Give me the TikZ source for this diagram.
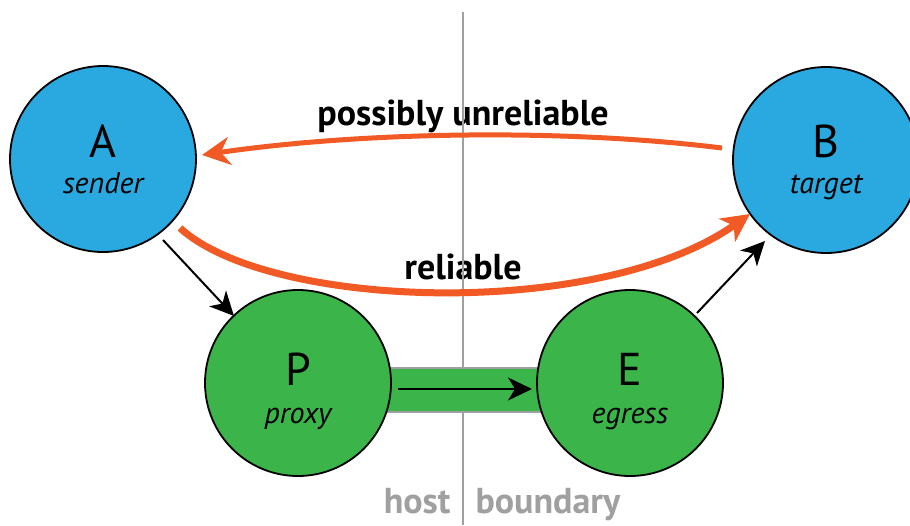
\documentclass[tikz,border=0pt]{standalone}
\usepackage{fontspec}
\setmainfont{PT Sans}
\usetikzlibrary{arrows.meta}
\definecolor{cblue}{HTML}{29A9E0}
\definecolor{cgreen}{HTML}{3BB44A}
\definecolor{corange}{HTML}{F15A24}
\definecolor{cgray}{HTML}{A0A0A0}
\begin{document}
\begin{tikzpicture}[x=1pt,y=-1pt,
  bubble/.style={circle,draw=black,line width=1.8pt,minimum size=186pt,inner sep=0pt,align=center},
  bluebub/.style={bubble,fill=cblue},
  greenbub/.style={bubble,fill=cgreen},
  big/.style={font=\fontsize{46}{50}\selectfont,anchor=base},
  small/.style={font=\fontsize{30}{34}\selectfont\itshape,anchor=base},
  blackarrow/.style={draw=black,line width=2pt,-{Stealth[length=24pt,width=23pt,inset=7pt]}},
  lbl/.style={font=\fontsize{36}{40}\selectfont\bfseries,anchor=base},
  glbl/.style={font=\fontsize{36}{40}\selectfont\bfseries,text=cgray,anchor=base}]
\useasboundingbox (0,0) rectangle (910,525);
\fill[white] (0,0) rectangle (910,525);
% labels
\node[lbl] (pu) at (463,125) {possibly unreliable};
\node[lbl] (rel) at (463,279) {reliable};
\node[glbl,anchor=base east] (host) at (454,513) {host};
\node[glbl,anchor=base west] (bd) at (472,513) {boundary};
% boundary line
\draw[cgray,line width=2pt] (463,12) -- (463,525);
% green channel
\node[draw=cgray,fill=cgreen,line width=2pt,minimum width=160pt,minimum height=44pt,inner sep=0pt] (bar) at (463,390) {};
\node[bluebub] (A) at (103,159) {};
\node[bluebub] (B) at (826,160) {};
\node[greenbub] (P) at (298,383) {};
\node[greenbub] (E) at (630,383) {};
\node[big] at (103,157) {A};
\node[small] at (103,193) {sender};
\node[big] at (826,157) {B};
\node[small] at (826,193) {target};
\node[big] at (298,385) {P};
\node[small] at (298,423) {proxy};
\node[big] at (630,385) {E};
\node[small] at (630,423) {egress};
% channel arrow
\coordinate (c1) at (398,389);
\coordinate (c2) at (532,389);
\draw[blackarrow] (c1) -- (c2);
% black arrows
\coordinate (a1) at (163,240);
\coordinate (p1) at (234,316);
\draw[blackarrow] (a1) -- (p1);
\coordinate (e1) at (697,313);
\coordinate (b1) at (765,241);
\draw[blackarrow] (e1) -- (b1);
% orange arrows
\coordinate (o1) at (722,148);
\coordinate (o2) at (202,155);
\draw[draw=corange,line width=5pt,-{Stealth[length=28pt,width=28pt,inset=9pt]}] (o1) .. controls (560,128) and (360,132) .. (o2);
\coordinate (o3) at (180,228);
\coordinate (o4) at (750,214);
\draw[draw=corange,line width=7pt,-{Stealth[length=28pt,width=28pt,inset=8pt]}] (o3) .. controls (270,310) and (600,320) .. (o4);
\end{tikzpicture}
\end{document}
